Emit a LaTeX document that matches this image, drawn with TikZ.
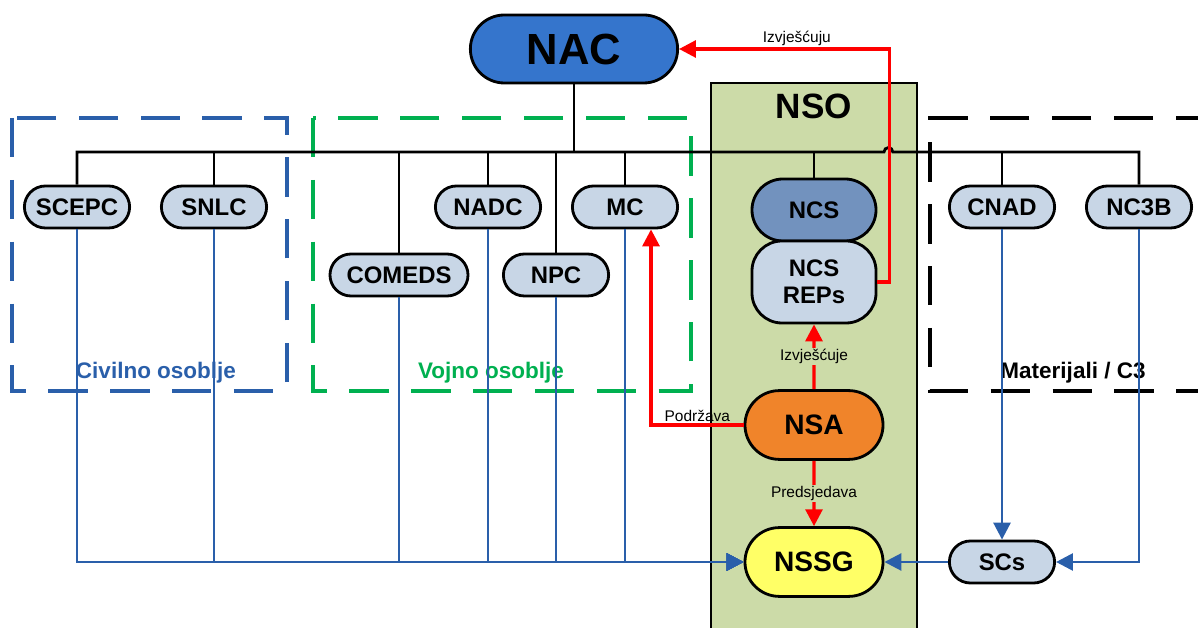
\documentclass[tikz,border=0pt]{standalone}
\usepackage{fontspec}
\setmainfont{Liberation Sans}
\usetikzlibrary{arrows.meta, positioning, shapes.misc}
\definecolor{nacblue}{RGB}{53,117,204}
\definecolor{ncsblue}{RGB}{114,146,190}
\definecolor{paleblue}{RGB}{200,214,230}
\definecolor{nsaorange}{RGB}{240,132,42}
\definecolor{nssgyellow}{RGB}{255,255,102}
\definecolor{nsogreen}{RGB}{204,219,168}
\definecolor{flowblue}{RGB}{42,95,170}
\definecolor{vojgreen}{RGB}{0,176,80}
\tikzset{
  pill/.style={rounded rectangle, draw, line width=2pt, fill=paleblue, inner sep=0pt,
    font=\fontsize{17}{19}\selectfont\bfseries, minimum width=2.63cm, minimum height=1.05cm},
  wide/.style={pill, minimum width=3.45cm},
  big/.style={pill, minimum width=3.45cm, minimum height=1.72cm, font=\fontsize{20}{22}\selectfont\bfseries},
  tree/.style={line width=2pt},
  flow/.style={draw=flowblue, line width=2pt, -{Triangle[length=12pt,width=12pt]}},
  report/.style={draw=red, line width=2.3pt, -{Triangle[length=12pt,width=12pt]}},
  lbl/.style={font=\fontsize{11}{13}\selectfont, inner sep=1pt},
  group/.style={line width=2.8pt, dash pattern=on 28pt off 16pt},
  grouplbl/.style={font=\fontsize{16}{18}\selectfont\bfseries},
}
\begin{document}
\begin{tikzpicture}[x=0.025cm, y=-0.025cm]
  \useasboundingbox (0,0) rectangle (1198,628);
  % groups
  \draw[group, draw=flowblue] (12,118) rectangle (287,391);
  \draw[group, draw=vojgreen] (313,118) rectangle (691,391);
  \draw[group] (1215,118) -- (930,118) -- (930,391) -- (1215,391);
  \node[grouplbl, text=flowblue] (civil) at (156,373) {Civilno osoblje};
  \node[grouplbl, text=vojgreen] (vojno) at (491,373) {Vojno osoblje};
  \node[grouplbl] (mat) at (1073,373) {Materijali / C3};
  % NSO
  \draw[line width=2pt, fill=nsogreen] (711,83) rectangle (917,640);
  \node[font=\fontsize{25}{27}\selectfont\bfseries] (nso) at (814,106) {NSO};

  \node[pill, minimum width=5.18cm, minimum height=1.7cm, fill=nacblue,
    font=\fontsize{31}{33}\selectfont\bfseries] (nac) at (574,49) {NAC};
  \node[pill] (scepc) at (77,207) {SCEPC};
  \node[pill] (snlc) at (214,207) {SNLC};
  \node[wide] (comeds) at (399,275) {COMEDS};
  \node[pill] (nadc) at (488,207) {NADC};
  \node[pill] (npc) at (556,275) {NPC};
  \node[pill] (mc) at (625,207) {MC};
  \node[pill] (cnad) at (1002,207) {CNAD};
  \node[pill] (nc3b) at (1139,207) {NC3B};
  \node[pill, minimum width=3.1cm, minimum height=1.55cm, fill=ncsblue] (ncs) at (814,210) {NCS};
  \node[draw, line width=2pt, rounded corners=0.75cm, fill=paleblue, minimum width=3.1cm,
    minimum height=2.05cm, inner sep=0pt, align=center,
    font=\fontsize{17}{19}\selectfont\bfseries] (reps) at (814,282) {NCS\\REPs};
  \node[big, fill=nsaorange] (nsa) at (814,425) {NSA};
  \node[big, fill=nssgyellow] (nssg) at (814,562) {NSSG};
  \node[pill] (scs) at (1002,562) {SCs};

  % tree
  \coordinate (bus) at (574,152);
  \draw[tree] (nac.south) -- (nac.south |- bus);
  \draw[tree] (scepc.north) |- (884,152) arc[start angle=180, end angle=0, radius=0.11cm] -| (nc3b.north);
  \foreach \n in {snlc, comeds, nadc, npc, mc, ncs, cnad}
    \draw[tree] (\n.north) -- (\n.north |- bus);

  % flows to NSSG
  \foreach \n in {scepc, snlc, comeds, nadc, npc, mc}
    \draw[flow] (\n.south) |- (nssg.west);
  \draw[flow] (cnad.south) -- (scs.north);
  \draw[flow] (nc3b.south) |- (scs.east);
  \draw[flow] (scs.west) -- (nssg.east);

  % reporting
  \draw[report] (reps.east) -- ++(12,0) |- node[lbl, pos=0.72, above] {Izvješćuju} (nac.east);
  \draw[report] (nsa) -- node[lbl, fill=nsogreen] {Izvješćuje} (reps);
  \draw[report] (nsa) -- node[lbl, fill=nsogreen] {Predsjedava} (nssg);
  \draw[report] (nsa.west) -| node[lbl, pos=0.25, above] {Podržava} ([xshift=0.65cm]mc.south);
\end{tikzpicture}
\end{document}
